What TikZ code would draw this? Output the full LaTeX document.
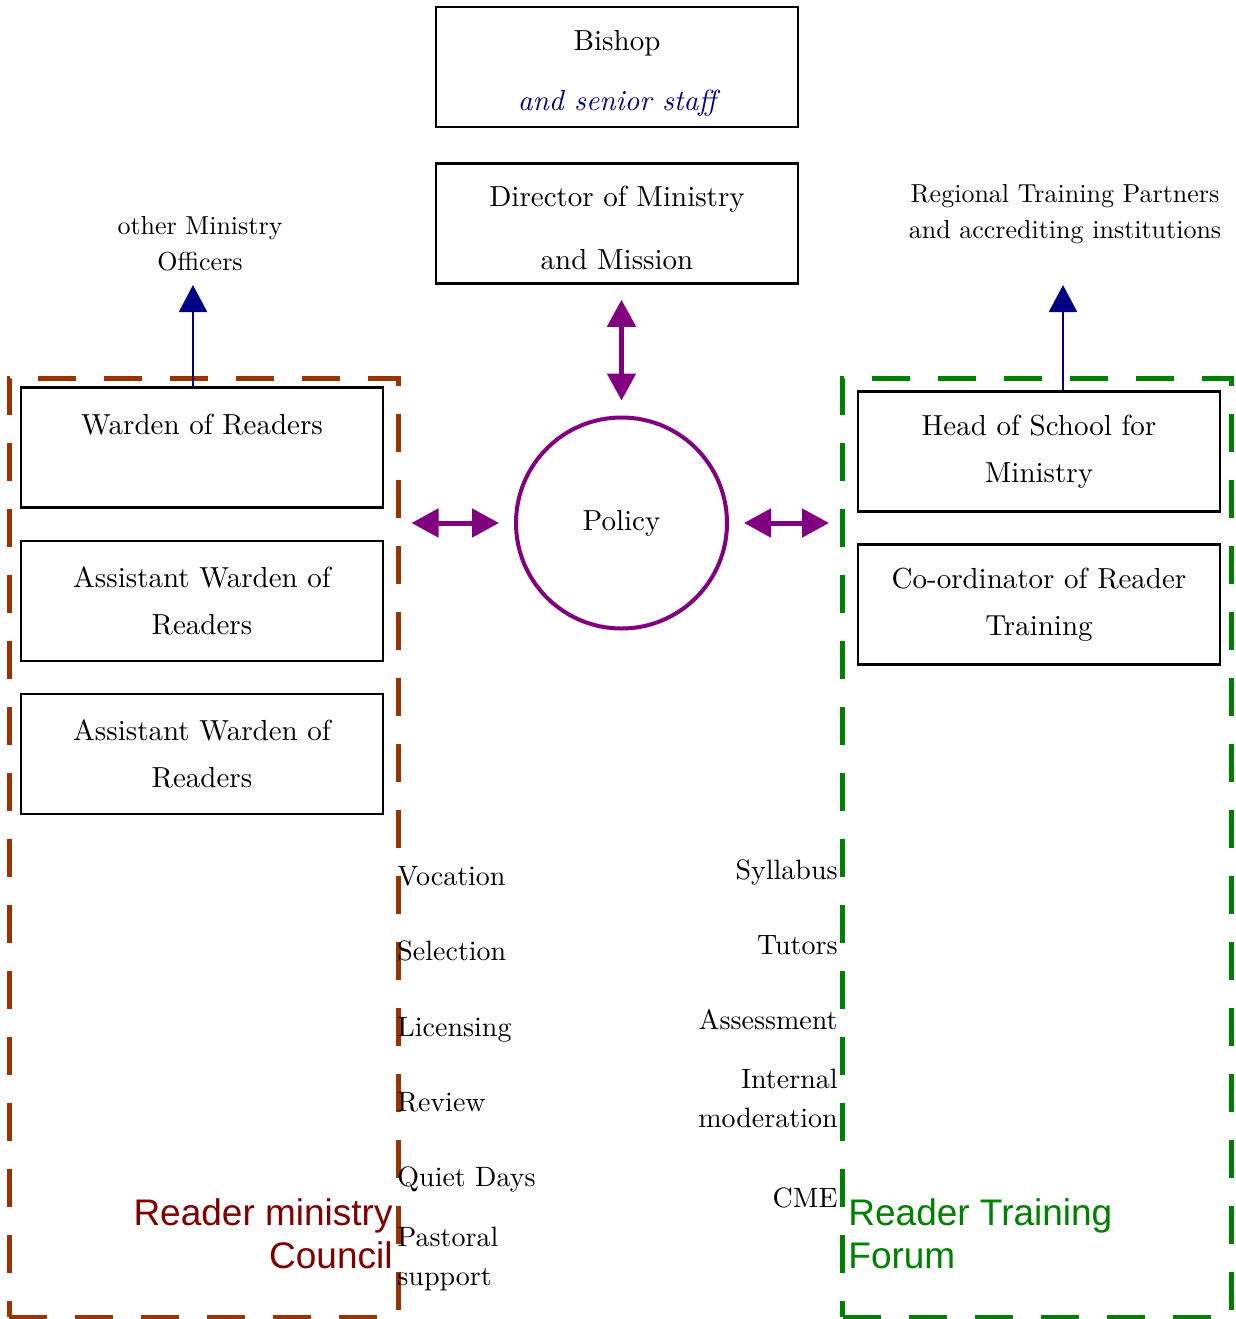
\documentclass[tikz,border=0pt]{standalone}
\usepackage{fontspec}
\setmainfont{lmroman10-regular.otf}[ItalicFont=lmroman10-italic.otf]
\setsansfont{Liberation Sans}
\usepackage{tikz}
\usetikzlibrary{arrows.meta}
\definecolor{councilbrown}{HTML}{993300}
\definecolor{forumgreen}{HTML}{008000}
\definecolor{policypurple}{HTML}{800080}
\definecolor{officeblue}{HTML}{000080}
\definecolor{councilred}{HTML}{800000}

\begin{document}
\begin{tikzpicture}
  [x=0.5pt,y=-0.5pt,auto=left,
   office/.style={draw,line width=1.25pt,minimum width=181pt,minimum height=60pt,
     inner sep=0pt,align=center,font=\fontsize{14.5}{23.5}\selectfont},
   group/.style={draw,line width=2.5pt,dash pattern=on 19pt off 14pt,
     minimum width=194.5pt,minimum height=469.5pt,inner sep=0pt},
   item/.style={inner sep=0pt,font=\fontsize{14}{19.5}\selectfont},
   outside/.style={inner sep=0pt,align=center,font=\fontsize{13}{17.8}\selectfont},
   grouplabel/.style={inner sep=0pt,font=\sffamily\fontsize{18.5}{21.5}\selectfont},
   uparrow/.style={draw=officeblue,line width=1pt,-{Triangle[width=14pt,length=13.5pt]},fill=officeblue},
   twoway/.style={draw=policypurple,line width=2.5pt,
     {Triangle[width=14pt,length=13.5pt]}-{Triangle[width=14pt,length=13.5pt]},
     shorten <=7.5pt,shorten >=7.5pt}]

  \useasboundingbox (0,0) rectangle (1236,1319);

  % the two groups
  \node[style={group,draw=councilbrown}] (council) at (203.5,847.5) {};
  \node[style={group,draw=forumgreen}] (forum) at (1037,847.5) {};

  \node[style=office] (bishop) at (617,67) {\rule{0pt}{16pt}Bishop\\[6.5pt]\textcolor{officeblue}{\itshape and senior staff}};
  \node[style=office] (director) at (617,223.5) {\rule{0pt}{14.5pt}Director of Ministry\\[8pt]and Mission};
  \node[style={circle,draw=policypurple,line width=2pt,minimum size=105.5pt,inner sep=0pt,
    font=\fontsize{14.5}{17}\selectfont}] (policy) at (621.5,523) {Policy};

  \node[style=office] (warden) at (202,447.5) {Warden of Readers\\\mbox{}};
  \node[style=office] (asstA) at (202,601) {Assistant Warden of\\Readers};
  \node[style=office] (asstB) at (202,754) {Assistant Warden of\\Readers};
  \node[style=office] (head) at (1039,451.5) {Head of School for\\Ministry};
  \node[style=office] (coord) at (1039,604.5) {Co-ordinator of Reader\\Training};

  \node[style=outside] (other) at (200,244) {other Ministry\\Officers};
  \node[style=outside] (partners) at (1065,214) {Regional Training Partners\\and accrediting institutions};
  \coordinate (otherend) at (193,285);
  \coordinate (partnersend) at (1063,285);

  % council tasks
  \node[style={item,anchor=base west}] (vocation) at (397,885) {Vocation};
  \node[style={item,anchor=base west}] (selection) at (397,960.5) {Selection};
  \node[style={item,anchor=base west}] (licensing) at (397,1036.5) {Licensing};
  \node[style={item,anchor=base west}] (review) at (397,1111.5) {Review};
  \node[style={item,anchor=base west}] (quiet) at (397,1186.5) {Quiet Days};
  \node[style={item,anchor=west,align=left}] (pastoral) at (397,1259) {Pastoral\\support};

  % forum tasks
  \node[style={item,anchor=base east}] (syllabus) at (838,879) {Syllabus};
  \node[style={item,anchor=base east}] (tutors) at (838,954) {Tutors};
  \node[style={item,anchor=base east}] (assessment) at (838,1029) {Assessment};
  \node[style={item,anchor=east,align=right}] (moderation) at (838,1098) {Internal\\moderation};
  \node[style={item,anchor=base east}] (cme) at (838,1207) {CME};

  \node[style={grouplabel,anchor=east,align=right,text=councilred}] (councilname) at (393,1234) {Reader ministry\\Council};
  \node[style={grouplabel,anchor=west,align=left,text=forumgreen}] (forumname) at (848,1234) {Reader Training\\Forum};

  \draw[uparrow] (warden.north -| otherend) -- (otherend);
  \draw[uparrow] (head.north -| partnersend) -- (partnersend);
  \draw[twoway] (policy.north) -- (policy.north |- director.south);
  \foreach \from/\to in {council.east/policy.west,forum.west/policy.east}
    \draw[twoway,shorten <=5.5pt] (\from |- policy) -- (\to);
\end{tikzpicture}
\end{document}
